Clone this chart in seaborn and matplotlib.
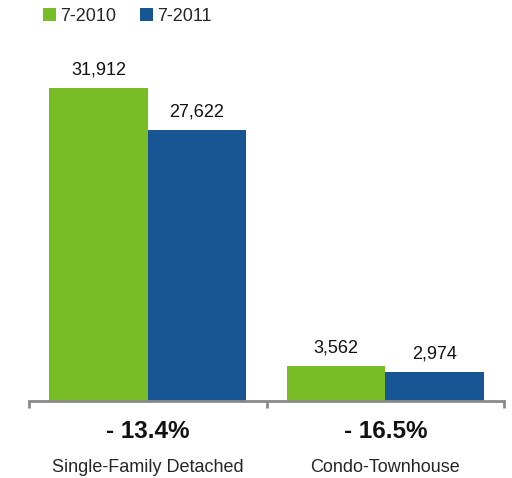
import numpy as np
import pandas as pd
import seaborn as sns
import matplotlib.pyplot as plt

categories = ["Single-Family Detached", "Condo-Townhouse"]
periods = ["7-2010", "7-2011"]
sales_2010 = [31912, 3562]
sales_2011 = [27622, 2974]
changes = ["- 13.4%", "- 16.5%"]

df = pd.DataFrame({
    "category": categories * 2,
    "period": [periods[0]] * 2 + [periods[1]] * 2,
    "sales": sales_2010 + sales_2011,
})

sns.set_style("white")
plt.rcParams['font.family'] = ['Liberation Sans', 'DejaVu Sans']

fig = plt.figure(figsize=(5.12, 4.78), dpi=100)
ax = fig.add_axes([29 / 512, 77 / 478, 475 / 512, 361 / 478])

palette = {"7-2010": "#78bc26", "7-2011": "#175595"}
sns.barplot(data=df, x="category", y="sales", hue="period", palette=palette,
            width=0.83, saturation=1, gap=0, ax=ax, legend=True, linewidth=0)

for cont in ax.containers:
    labels = [f"{int(v):,}" for v in cont.datavalues]
    ax.bar_label(cont, labels=labels, padding=7, fontsize=13, color="#111111")

ax.set_ylim(0, 36800)
ax.set_xlim(-0.5, 1.5)
ax.set_yticks([])
ax.set_xlabel("")
ax.set_ylabel("")
for s in ["top", "right", "left"]:
    ax.spines[s].set_visible(False)
ax.spines["bottom"].set_color("#8a8a8a")
ax.spines["bottom"].set_linewidth(2)

ax.set_xticks(range(len(categories)))
ax.set_xticklabels(categories, fontsize=13)
ax.tick_params(axis="x", which="major", length=0, pad=42)
ax.set_xticks([-0.5, 0.5, 1.5], minor=True)
ax.tick_params(axis="x", which="minor", bottom=True, length=5, width=2,
               color="#8a8a8a", direction="out")

for i, ch in enumerate(changes):
    ax.annotate(ch, xy=(i, 0), xycoords="data", xytext=(0, -22),
                textcoords="offset points", ha="center", va="center",
                fontsize=17.5, fontweight="bold", color="#111111")

leg = ax.legend(loc="upper left", bbox_to_anchor=(0.015, 1.11), ncol=2, frameon=False,
                fontsize=13, handlelength=0.7, handleheight=0.7, handletextpad=0.25,
                columnspacing=1.3, borderaxespad=0)

fig.savefig("out.png", dpi=100)
